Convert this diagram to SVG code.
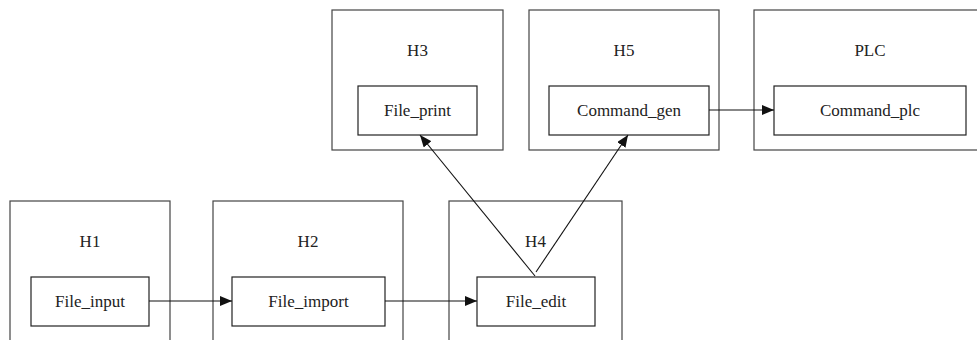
<svg xmlns="http://www.w3.org/2000/svg" width="977" height="340" viewBox="0 0 977 340">
  <style>
    .host { fill: #fff; stroke: #444; stroke-width: 1.2; }
    .proc { fill: #fff; stroke: #222; stroke-width: 1.2; }
    text { font-size: 17px; fill: #222; text-anchor: middle; }
    .edge { stroke: #111; stroke-width: 1.1; fill: none; marker-end: url(#arrow); }
  </style>
  <defs>
    <marker id="arrow" viewBox="0 0 12 10" refX="12" refY="5" markerWidth="12" markerHeight="10" markerUnits="userSpaceOnUse" orient="auto">
      <path d="M0,0 L12,5 L0,10 Z" fill="#111"/>
    </marker>
  </defs>

  <g font-family="'Liberation Serif', 'DejaVu Serif', serif">
  <!-- host H1 -->
  <g id="H1">
    <rect class="host" x="10" y="201" width="160" height="150"/>
    <text x="90" y="247">H1</text>
    <g id="File_input">
      <rect class="proc" x="31" y="277" width="118" height="49"/>
      <text x="90" y="307">File_input</text>
    </g>
  </g>

  <!-- host H2 -->
  <g id="H2">
    <rect class="host" x="213" y="201" width="190" height="150"/>
    <text x="308" y="247">H2</text>
    <g id="File_import">
      <rect class="proc" x="232" y="277" width="153" height="49"/>
      <text x="308.5" y="307">File_import</text>
    </g>
  </g>

  <!-- host H4 -->
  <g id="H4">
    <rect class="host" x="449" y="201" width="173" height="150"/>
    <text x="535.5" y="247">H4</text>
    <g id="File_edit">
      <rect class="proc" x="477" y="277" width="118" height="49"/>
      <text x="536" y="307">File_edit</text>
    </g>
  </g>

  <!-- host H3 -->
  <g id="H3">
    <rect class="host" x="332" y="10" width="171" height="140"/>
    <text x="417.5" y="56">H3</text>
    <g id="File_print">
      <rect class="proc" x="358" y="86" width="119" height="49"/>
      <text x="417.5" y="116">File_print</text>
    </g>
  </g>

  <!-- host H5 -->
  <g id="H5">
    <rect class="host" x="529" y="10" width="190" height="140"/>
    <text x="624" y="56">H5</text>
    <g id="Command_gen">
      <rect class="proc" x="549" y="86" width="160" height="49"/>
      <text x="629" y="116">Command_gen</text>
    </g>
  </g>

  <!-- host PLC -->
  <g id="PLC">
    <rect class="host" x="754" y="10" width="232" height="140"/>
    <text x="870" y="56">PLC</text>
    <g id="Command_plc">
      <rect class="proc" x="774" y="86" width="192" height="49"/>
      <text x="870" y="116">Command_plc</text>
    </g>
  </g>
  </g>

  <!-- connectors -->
  <g id="connectors">
    <line class="edge" x1="149" y1="301" x2="232" y2="301"/>
    <line class="edge" x1="385" y1="301" x2="477" y2="301"/>
    <line class="edge" x1="535" y1="276" x2="420" y2="135"/>
    <line class="edge" x1="536" y1="272" x2="628" y2="135"/>
    <line class="edge" x1="709" y1="110" x2="774" y2="110"/>
  </g>
</svg>
